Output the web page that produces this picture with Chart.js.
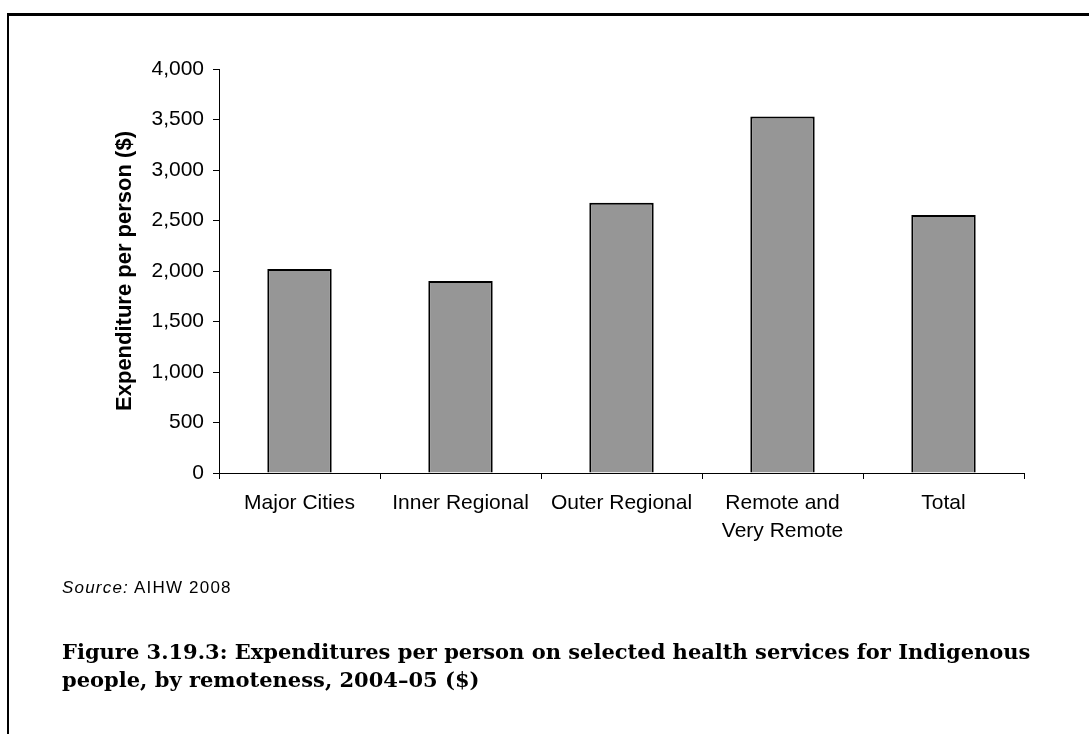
<!DOCTYPE html>
<html><head><meta charset="utf-8">
<script src="https://cdn.jsdelivr.net/npm/chart.js@4.4.1/dist/chart.umd.min.js"></script>
<style>
html,body{margin:0;padding:0;background:#fff;}
body{width:1089px;height:734px;position:relative;overflow:hidden;}
#frame{position:absolute;left:7px;top:13px;width:1100px;height:800px;border-top:3px solid #000;border-left:2px solid #000;box-sizing:border-box;}
#chart{position:absolute;left:0;top:0;}
#source{position:absolute;left:62px;top:578px;font:17px "Liberation Sans",Arial,sans-serif;letter-spacing:1.2px;color:#000;line-height:20px;white-space:nowrap;}
#caption{position:absolute;left:62px;top:638px;font:bold 21px "DejaVu Serif",serif;line-height:28px;color:#000;white-space:nowrap;}
</style></head>
<body>
<div id="frame"></div>
<canvas id="chart" width="1089" height="734"></canvas>
<div id="source"><i>Source:</i> AIHW 2008</div>
<div id="caption"><div>Figure 3.19.3: Expenditures per person on selected health services for Indigenous</div><div>people, by remoteness, 2004–05 ($)</div></div>
<script>
const categories = ["Major Cities", "Inner Regional", "Outer Regional", ["Remote and", "Very Remote"], "Total"];
const expenditure = [2020, 1900, 2675, 3530, 2555];
const yTicks = [0, 500, 1000, 1500, 2000, 2500, 3000, 3500, 4000];
const yTitle = "Expenditure per person ($)";

const sans = '"Liberation Sans", Arial, sans-serif';

new Chart(document.getElementById('chart'), {
  type: 'bar',
  data: {
    labels: categories,
    datasets: [{
      data: expenditure,
      backgroundColor: '#969696',
      borderColor: '#000000',
      borderWidth: 2,
      categoryPercentage: 1,
      barPercentage: 0.4
    }]
  },
  options: {
    responsive: false,
    animation: false,
    events: [],
    layout: {padding: {left: 0, top: 69, right: 65, bottom: 161}},
    plugins: {legend: {display: false}, tooltip: {enabled: false}, title: {display: false}},
    scales: {
      x: {
        grid: {display: true, drawOnChartArea: false, drawTicks: true, tickLength: 6, color: '#000', lineWidth: 1, offset: true},
        border: {display: true, color: '#000', width: 1},
        ticks: {color: '#000', font: {family: sans, size: 21, lineHeight: 1.35}, padding: 10, maxRotation: 0, autoSkip: false},
        afterFit: (s) => { s.height = 100; }
      },
      y: {
        min: 0, max: 4000,
        afterBuildTicks: (axis) => { axis.ticks = yTicks.map(v => ({value: v})); },
        grid: {display: true, drawOnChartArea: false, drawTicks: true, tickLength: 6, color: '#000', lineWidth: 1},
        border: {display: true, color: '#000', width: 1},
        ticks: {color: '#000', font: {family: sans, size: 21}, padding: 9,
                callback: (v) => Number(v).toLocaleString('en-US')},
        title: {display: true, text: yTitle, color: '#000',
                font: {family: sans, size: 22, weight: 'bold'},
                padding: {top: 112, bottom: 0}},
        afterFit: (s) => { s.width = 219; }
      }
    }
  }
});
</script>
</body></html>
